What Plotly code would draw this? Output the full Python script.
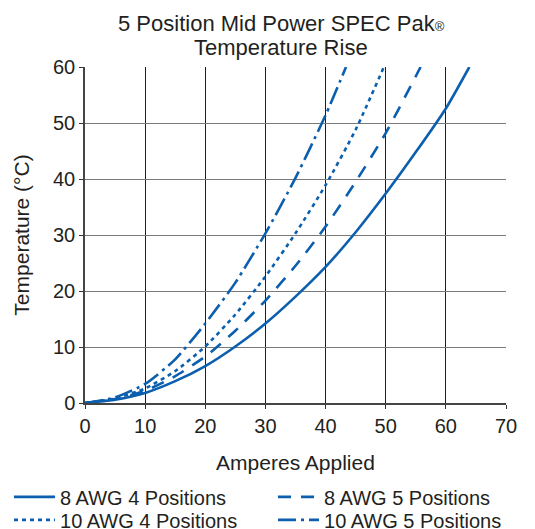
import plotly.graph_objects as go

# Data (Amperes vs temperature rise °C)
amps_8awg_4 = [0, 5, 10, 15, 20, 25, 30, 35, 40, 45, 50, 55, 60, 63.9]
temp_8awg_4 = [0, 0.6, 1.8, 3.9, 6.6, 10.1, 14.2, 19.0, 24.3, 30.5, 37.4, 44.8, 52.6, 60]

amps_8awg_5 = [0, 5, 10, 15, 20, 25, 30, 35, 40, 45, 50, 55.8]
temp_8awg_5 = [0, 0.7, 2.2, 4.8, 8.3, 12.9, 18.3, 24.5, 31.5, 39.5, 48.2, 60]

amps_10awg_4 = [0, 5, 10, 15, 20, 25, 30, 35, 40, 45, 49.7]
temp_10awg_4 = [0, 0.8, 2.6, 5.7, 10.1, 15.8, 22.6, 30.3, 38.9, 48.8, 60]

amps_10awg_5 = [0, 5, 10, 15, 20, 25, 30, 35, 40, 43.4]
temp_10awg_5 = [0, 1.0, 3.4, 7.8, 14.2, 21.5, 30.3, 40.2, 51.4, 60]

names = ["8 AWG 4 Positions", "8 AWG 5 Positions", "10 AWG 4 Positions", "10 AWG 5 Positions"]
x_ticks = [0, 10, 20, 30, 40, 50, 60, 70]
y_ticks = [0, 10, 20, 30, 40, 50, 60]
title_lines = ["5 Position Mid Power SPEC Pak<span style='font-size:13px'>®</span>", "Temperature Rise"]

BLUE = "#0B5FAE"
FONT = "Liberation Sans, Arial, sans-serif"
TXT = "#231F20"
FS = 20

fig = go.Figure()
series = [
    (amps_8awg_4, temp_8awg_4, names[0], "solid", "legend"),
    (amps_8awg_5, temp_8awg_5, names[1], "13px,10px", "legend2"),
    (amps_10awg_4, temp_10awg_4, names[2], "4px,4px", "legend3"),
    (amps_10awg_5, temp_10awg_5, names[3], "18px,5px,3px,5px", "legend4"),
]
for xs, ys, nm, dash, lg in series:
    fig.add_trace(go.Scatter(
        x=xs, y=ys, name=nm, mode="lines", legend=lg,
        line=dict(color=BLUE, width=2.6, dash=dash, shape="spline", smoothing=0.6),
    ))

# plot area: 421 x 336 px
PH = 336
for txt, ypix in zip(title_lines, [15, 39]):
    fig.add_annotation(
        text=txt, xref="paper", yref="paper",
        x=(273 - 77) / 421, y=1 + (59 - ypix) / PH,
        xanchor="center", yanchor="middle", showarrow=False,
        font=dict(family=FONT, size=22, color=TXT),
    )

def leg(x, y):
    return dict(
        x=x, y=y, xanchor="left", yanchor="top",
        orientation="v", itemwidth=41,
        font=dict(family=FONT, size=FS, color=TXT), bgcolor="rgba(0,0,0,0)",
    )

ROW1, ROW2 = -0.2214, -0.2214 - 23 / PH
COL1, COL2 = -0.1805, 0.4466

fig.update_layout(
    width=527, height=521,
    margin=dict(l=77, r=29, t=59, b=126, autoexpand=False),
    paper_bgcolor="white", plot_bgcolor="white",
    font=dict(family=FONT, size=FS, color=TXT),
    xaxis=dict(
        range=[0, 70], tickvals=x_ticks, ticks="outside", ticklen=4, tickcolor="#333",
        showgrid=True, gridcolor="#1E1E1E", gridwidth=1.2,
        showline=True, linecolor="#444", linewidth=1.5, mirror=False,
        zeroline=False, fixedrange=True,
        title=dict(text="Amperes Applied", standoff=20, font=dict(size=21)),
        tickfont=dict(size=FS),
    ),
    yaxis=dict(
        range=[0, 60], tickvals=y_ticks, ticks="outside", ticklen=4, tickcolor="#333",
        showgrid=True, gridcolor="#7A7A7A", gridwidth=1.2,
        showline=True, linecolor="#444", linewidth=1.5,
        zeroline=False, fixedrange=True,
        title=dict(text="Temperature (°C)", standoff=18, font=dict(size=21)),
        tickfont=dict(size=FS),
    ),
    legend=leg(COL1, ROW1),
    legend2=leg(COL2, ROW1),
    legend3=leg(COL1, ROW2),
    legend4=leg(COL2, ROW2),
    showlegend=True,
)

fig.write_html("out.html")
